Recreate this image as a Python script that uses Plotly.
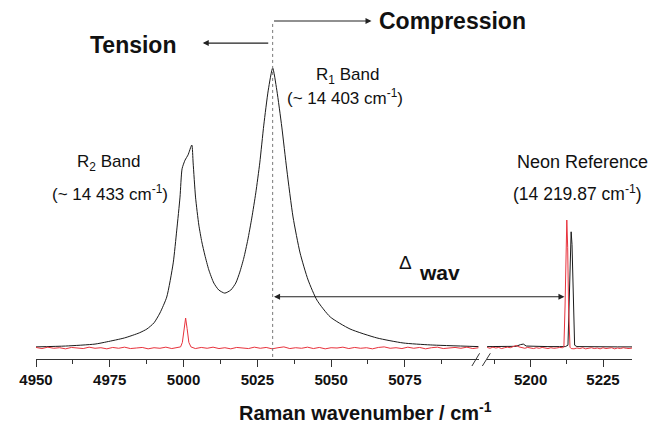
import plotly.graph_objects as go

# ---------------- data ----------------
# black spectrum, left segment (4950-5100 cm-1), normalised intensity
black_left_x = [4950, 4960, 4970, 4974, 4980, 4985, 4987.6, 4990, 4992, 4994.3,
                4996.5, 4997.7, 4998.8, 4999.5, 5000.5, 5001.5, 5002.8, 5003.25,
                5004.06, 5005.18, 5006.19, 5007.21, 5008.56, 5010.26, 5011.95, 5013.98,
                5016.01, 5017.70, 5019.06, 5020.41, 5021.77, 5023.12, 5024.48, 5025.83,
                5027.19, 5028.71, 5030.2, 5031.6,
                5033.3, 5035.0, 5037.1, 5039.5, 5042.2, 5045.2, 5049.7, 5056.4,
                5065.5, 5074.4, 5083.6, 5100]
black_left_y = [0.004, 0.007, 0.014, 0.022, 0.036, 0.054, 0.068, 0.090, 0.125, 0.182,
                0.304, 0.421, 0.539, 0.640, 0.671, 0.689, 0.725, 0.661,
                0.539, 0.439, 0.379, 0.332, 0.279, 0.232, 0.207, 0.196,
                0.207, 0.232, 0.271, 0.321, 0.386, 0.464, 0.554, 0.661,
                0.796, 0.921, 1.000, 0.921,
                0.789, 0.636, 0.468, 0.339, 0.243, 0.171, 0.111, 0.068,
                0.036, 0.018, 0.011, 0.005]

# black spectrum, right segment (5185-5235 cm-1)
black_right_x = [5185, 5190, 5195, 5196.5, 5197.5, 5198.5, 5202, 5206, 5210, 5212,
                 5212.9, 5213.4, 5213.7, 5214.0, 5214.3, 5214.7, 5215.2, 5216,
                 5220, 5225, 5230, 5235]
black_right_y = [0.005, 0.005, 0.006, 0.012, 0.014, 0.007, 0.005, 0.005, 0.005, 0.005,
                 0.010, 0.200, 0.380, 0.415, 0.370, 0.150, 0.010, 0.005,
                 0.004, 0.004, 0.004, 0.004]

# red spectrum, left segment
red_left_x = [4950, 4952, 4954, 4956, 4958, 4960, 4962, 4964, 4966, 4968,
              4970, 4972, 4974, 4976, 4978, 4980, 4982, 4984, 4986, 4988,
              4990, 4992, 4994, 4996, 4998,
              4999, 4999.6, 5000.1, 5000.7, 5001.2, 5001.8, 5002.5,
              5004, 5006, 5008, 5010, 5012, 5014, 5016, 5018, 5020, 5022,
              5024, 5026, 5028, 5030, 5032, 5034, 5036, 5038, 5040, 5042,
              5044, 5046, 5048, 5050, 5052, 5054, 5056, 5058, 5060, 5062,
              5064, 5066, 5068, 5070, 5072, 5074, 5076, 5078, 5080, 5082,
              5084, 5086, 5088, 5090, 5092, 5094, 5096, 5098, 5100]
red_left_y = [0.002, -0.002, 0.003, -0.001, 0.001, -0.003, 0.002, 0.000, -0.002, 0.003,
              -0.001, 0.001, -0.003, 0.002, -0.001, 0.003, -0.002, 0.000, 0.002, -0.003,
              0.001, -0.001, 0.003, -0.002, 0.001,
              0.004, 0.020, 0.070, 0.107, 0.070, 0.020, 0.004,
              -0.002, 0.002, -0.001, 0.003, -0.002, 0.001, -0.003, 0.002, 0.000, -0.002,
              0.003, -0.001, 0.002, -0.003, 0.001, 0.004, -0.002, 0.001, -0.001, 0.003,
              -0.002, 0.002, -0.003, 0.001, 0.000, 0.003, -0.002, 0.002, -0.001, 0.001,
              -0.003, 0.002, 0.004, -0.001, 0.001, -0.002, 0.003, -0.001, 0.002, -0.003,
              0.001, 0.003, -0.002, 0.000, 0.002, -0.001, 0.003, -0.002, 0.001]

# red spectrum, right segment
red_right_x = [5185, 5186, 5187, 5188, 5189, 5190, 5191, 5192, 5193, 5194,
               5195, 5196, 5197, 5198, 5199, 5200, 5201, 5202, 5203, 5204,
               5205, 5206, 5207, 5208, 5209, 5210, 5211,
               5211.5, 5211.9, 5212.2, 5212.5, 5212.8, 5213.1, 5213.6,
               5214, 5215, 5216, 5217, 5218, 5219, 5220, 5221, 5222, 5223,
               5224, 5225, 5226, 5227, 5228, 5229, 5230, 5231, 5232, 5233,
               5234, 5235]
red_right_y = [0.002, -0.001, 0.003, 0.000, 0.002, -0.002, 0.001, 0.003, 0.001, 0.006,
               0.009, 0.004, 0.001, -0.001, 0.002, 0.000, -0.002, 0.001, -0.001, 0.002,
               0.000, -0.002, 0.001, -0.001, 0.000, 0.002, 0.001,
               0.004, 0.150, 0.360, 0.457, 0.360, 0.150, 0.003,
               -0.002, -0.003, 0.000, -0.002, 0.001, -0.003, -0.001, 0.001, -0.002, 0.000,
               -0.003, 0.001, -0.002, -0.001, 0.001, -0.003, 0.000, -0.002, 0.001, -0.001,
               -0.002, 0.000]

left_ticks = [4950, 4975, 5000, 5025, 5050, 5075]
left_minor = [4962.5, 4987.5, 5012.5, 5037.5, 5062.5, 5087.5]
right_ticks = [5200, 5225]
right_minor = [5187.5, 5212.5]

r1_pos = 5030.2     # R1 band position (dotted line)
neon_arrow = 5211.7

BLACK = "#1a1a1a"
RED = "#e8323c"
FONT = "Liberation Sans"

fig = go.Figure()
fig.add_trace(go.Scatter(x=black_left_x, y=black_left_y, mode="lines", xaxis="x", yaxis="y",
                         line=dict(color=BLACK, width=1, shape="spline", smoothing=0.6),
                         showlegend=False, hoverinfo="skip"))
fig.add_trace(go.Scatter(x=black_right_x, y=black_right_y, mode="lines", xaxis="x2", yaxis="y",
                         line=dict(color=BLACK, width=1), showlegend=False, hoverinfo="skip"))
fig.add_trace(go.Scatter(x=red_left_x, y=red_left_y, mode="lines", xaxis="x", yaxis="y",
                         line=dict(color=RED, width=1), showlegend=False, hoverinfo="skip"))
fig.add_trace(go.Scatter(x=red_right_x, y=red_right_y, mode="lines", xaxis="x2", yaxis="y",
                         line=dict(color=RED, width=1), showlegend=False, hoverinfo="skip"))

axis_common = dict(showgrid=False, zeroline=False, showline=True, linecolor="#333",
                   linewidth=1, ticks="outside", ticklen=7, tickwidth=1, tickcolor="#333",
                   tickfont=dict(family=FONT, size=15, color="#111", weight="bold"),
                   anchor="y", fixedrange=True)

fig.update_layout(
    width=663, height=424,
    margin=dict(l=36, r=30.5, t=0, b=65),
    paper_bgcolor="white", plot_bgcolor="white",
    xaxis=dict(domain=[0, 0.7427], range=[4950, 5100], tickmode="array",
               tickvals=left_ticks, ticktext=[str(v) for v in left_ticks],
               minor=dict(tickmode="array", tickvals=left_minor, ticklen=4,
                          tickcolor="#333", ticks="outside"),
               **axis_common),
    xaxis2=dict(domain=[0.7569, 1], range=[5185, 5235], tickmode="array",
                tickvals=right_ticks, ticktext=[str(v) for v in right_ticks],
                minor=dict(tickmode="array", tickvals=right_minor, ticklen=4,
                           tickcolor="#333", ticks="outside"),
                **axis_common),
    yaxis=dict(range=[-0.03929, 1.2429], visible=False, fixedrange=True),
    font=dict(family=FONT, color="#111"),
)

# dotted vertical line at R1 position
fig.add_shape(type="line", xref="x", yref="y", x0=r1_pos, x1=r1_pos, y0=-0.032, y1=1.168,
              line=dict(color="#777", width=1, dash="dot"))

def arrow(x, y, ax, xref="x", both=False):
    fig.add_annotation(x=x, y=y, xref=xref, yref="y", ax=ax, ay=0, axref="pixel", ayref="pixel",
                       text="", showarrow=True, arrowhead=2, arrowsize=1.1, arrowwidth=1.1,
                       arrowcolor="#222", arrowside="end+start" if both else "end",
                       startarrowhead=2, startarrowsize=1.1)

arrow(5063.7, 1.168, -99)        # compression arrow
arrow(5006.5, 1.089, 67)         # tension arrow
arrow(neon_arrow, 0.183, -292, xref="x2", both=True)   # delta wav arrow

def label(x, y, text, size=17, xref="x", bold=False):
    fig.add_annotation(x=x, y=y, xref=xref, yref="y", text=text, showarrow=False,
                       xanchor="center", yanchor="middle",
                       font=dict(family=FONT, size=size, color="#111",
                                 weight="bold" if bold else "normal"))

label(4982.9, 1.082, "Tension", size=23, bold=True)
label(5091.3, 1.168, "Compression", size=23, bold=True)
label(5055.4, 0.971, "R<sub>1</sub> Band")
label(5054.7, 0.896, "(~ 14 403 cm<sup>-1</sup>)")
label(4974.4, 0.661, "R<sub>2</sub> Band")
label(4975.1, 0.554, "(~ 14 433 cm<sup>-1</sup>)")
label(5217.9, 0.664, "Neon Reference", size=18, xref="x2")
label(5216.2, 0.554, "(14 219.87 cm<sup>-1</sup>)", size=17.5, xref="x2")
label(5075.1, 0.307, "Δ", size=19)
label(5086.9, 0.268, "wav", size=21, bold=True)

# x-axis title
fig.add_annotation(x=0.5532, y=-0.145, xref="paper", yref="paper", showarrow=False,
                   xanchor="center", yanchor="middle",
                   text="Raman wavenumber / cm<sup>-1</sup>",
                   font=dict(family=FONT, size=20, color="#111", weight="bold"))

# axis-break marks
for x0, x1 in [(0.7314, 0.7443), (0.7489, 0.7623)]:
    fig.add_shape(type="line", xref="paper", yref="paper", x0=x0, x1=x1, y0=-0.0195, y1=0.0159,
                  line=dict(color="#333", width=1))

fig.write_html("out.html")
